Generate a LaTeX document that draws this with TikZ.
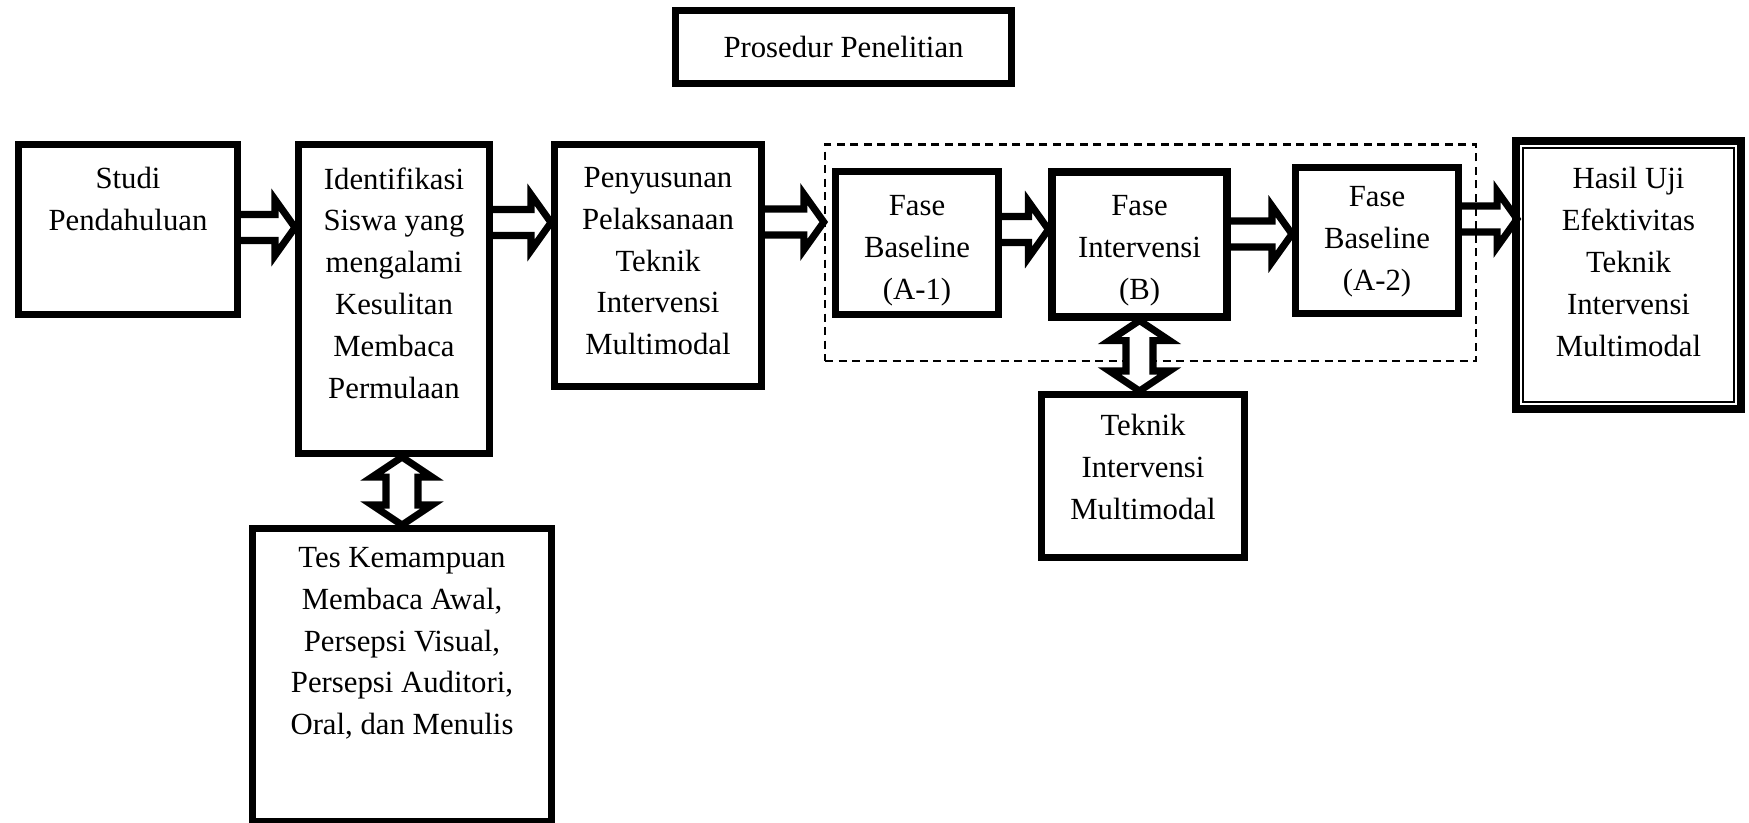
\documentclass[tikz,border=0pt]{standalone}
\usepackage{fontspec}
\setmainfont{Liberation Serif}
\usepackage{tikz}
\usetikzlibrary{positioning,calc}

\begin{document}
\begin{tikzpicture}[
    font=\fontsize{17.5}{23.8}\selectfont,
    box/.style={draw, line width=4pt, fill=white, inner sep=0pt},
    txt/.style={align=center, inner sep=0pt},
    phasebox/.style={draw, line width=1.4pt, dash pattern=on 0.16cm off 0.11cm},
    blockarrow/.style={draw, line width=4pt, line join=miter,
      to path={let \p1=(\tikztostart), \p2=(\tikztotarget) in
        (\x1,\y1+0.26cm) -- (\x2-0.4cm,\y1+0.26cm) -- (\x2-0.4cm,\y1+0.56cm)
        -- (\x2,\y1) -- (\x2-0.4cm,\y1-0.56cm) -- (\x2-0.4cm,\y1-0.26cm) -- (\x1,\y1-0.26cm)}},
    dblarrow/.style={draw, fill=white, line width=4pt, line join=miter,
      to path={let \p1=(\tikztostart), \p2=(\tikztotarget) in
        (\x1,\y1) -- (\x1+0.6cm,\y1-0.4cm) -- (\x1+#1,\y1-0.4cm) -- (\x1+#1,\y2+0.4cm)
        -- (\x1+0.6cm,\y2+0.4cm) -- (\x1,\y2) -- (\x1-0.6cm,\y2+0.4cm) -- (\x1-#1,\y2+0.4cm)
        -- (\x1-#1,\y1-0.4cm) -- (\x1-0.6cm,\y1-0.4cm) -- cycle}},
    dblarrow/.default=0.3cm]
  \useasboundingbox (0,0) rectangle (34.98,-16.44);

  % judul
  \node[box, minimum width=6.72cm, minimum height=1.46cm] (title) at (16.87,-0.94) {Prosedur Penelitian};

  % alur utama
  \node[box, minimum width=4.38cm, minimum height=3.40cm] (studi) at (2.56,-4.59) {};
  \node[txt, below=0.52cm of studi.north] (studitxt) {Studi\\Pendahuluan};
  \node[box, minimum width=3.82cm, minimum height=6.18cm] (ident) at (7.88,-5.98) {};
  \node[txt, below=0.52cm of ident.north] (identtxt) {Identifikasi\\Siswa yang\\mengalami\\Kesulitan\\Membaca\\Permulaan};
  \node[box, minimum width=4.14cm, minimum height=4.84cm] (penyus) at (13.16,-5.31) {};
  \node[txt, below=0.52cm of penyus.north] (penyustxt) {Penyusunan\\Pelaksanaan\\Teknik\\Intervensi\\Multimodal};

  % fase penelitian
  \node[phasebox, minimum width=13.02cm, minimum height=4.33cm] (fase) at (23.01,-5.055) {};
  \node[box, minimum width=3.26cm, minimum height=2.86cm] (a1) at (18.34,-4.86) {};
  \node[txt, below=0.54cm of a1.north] (a1txt) {Fase\\Baseline\\(A-1)};
  \node[box, minimum width=3.50cm, minimum height=2.90cm] (b) at (22.79,-4.89) {};
  \node[txt, below=0.54cm of b.north] (btxt) {Fase\\Intervensi\\(B)};
  \node[box, minimum width=3.26cm, minimum height=2.92cm] (a2) at (27.54,-4.81) {};
  \node[txt, below=0.44cm of a2.north] (a2txt) {Fase\\Baseline\\(A-2)};

  % hasil
  \node[box, line width=4.5pt, minimum width=4.50cm, minimum height=5.36cm] (hasil) at (32.57,-5.50) {};
  \draw[line width=1.1pt] ([shift={(0.22,-0.22)}]hasil.north west) rectangle ([shift={(-0.22,0.22)}]hasil.south east);
  \node[txt, below=0.6cm of hasil.north] (hasiltxt) {Hasil Uji\\Efektivitas\\Teknik\\Intervensi\\Multimodal};

  % kotak bawah
  \node[box, minimum width=4.06cm, minimum height=3.26cm] (teknik) at (22.86,-9.52) {};
  \node[txt, below=0.46cm of teknik.north] (tekniktxt) {Teknik\\Intervensi\\Multimodal};
  \node[box, minimum width=5.98cm, minimum height=5.86cm] (tes) at (8.04,-13.50) {};
  \node[txt, below=0.44cm of tes.north] (testxt) {Tes Kemampuan\\Membaca Awal,\\Persepsi Visual,\\Persepsi Auditori,\\Oral, dan Menulis};

  % panah
  \draw[blockarrow] ([yshift=0.04cm]studi.east) to (ident.west);
  \draw[blockarrow] ([yshift=1.53cm]ident.east) to (penyus.west);
  \draw[blockarrow] ([yshift=0.87cm]penyus.east) to (fase.west);
  \draw[blockarrow] ([yshift=0.27cm]a1.east) to (b.west);
  \draw[blockarrow] ([yshift=0.21cm]b.east) to (a2.west);
  \draw[blockarrow] ([yshift=0.43cm]a2.east) to ([xshift=0.1cm]hasil.west);
  \draw[dblarrow=0.32cm] ([xshift=0.16cm]ident.south) to (tes.north);
  \draw[dblarrow=0.27cm] (b.south) to (teknik.north);
\end{tikzpicture}
\end{document}
